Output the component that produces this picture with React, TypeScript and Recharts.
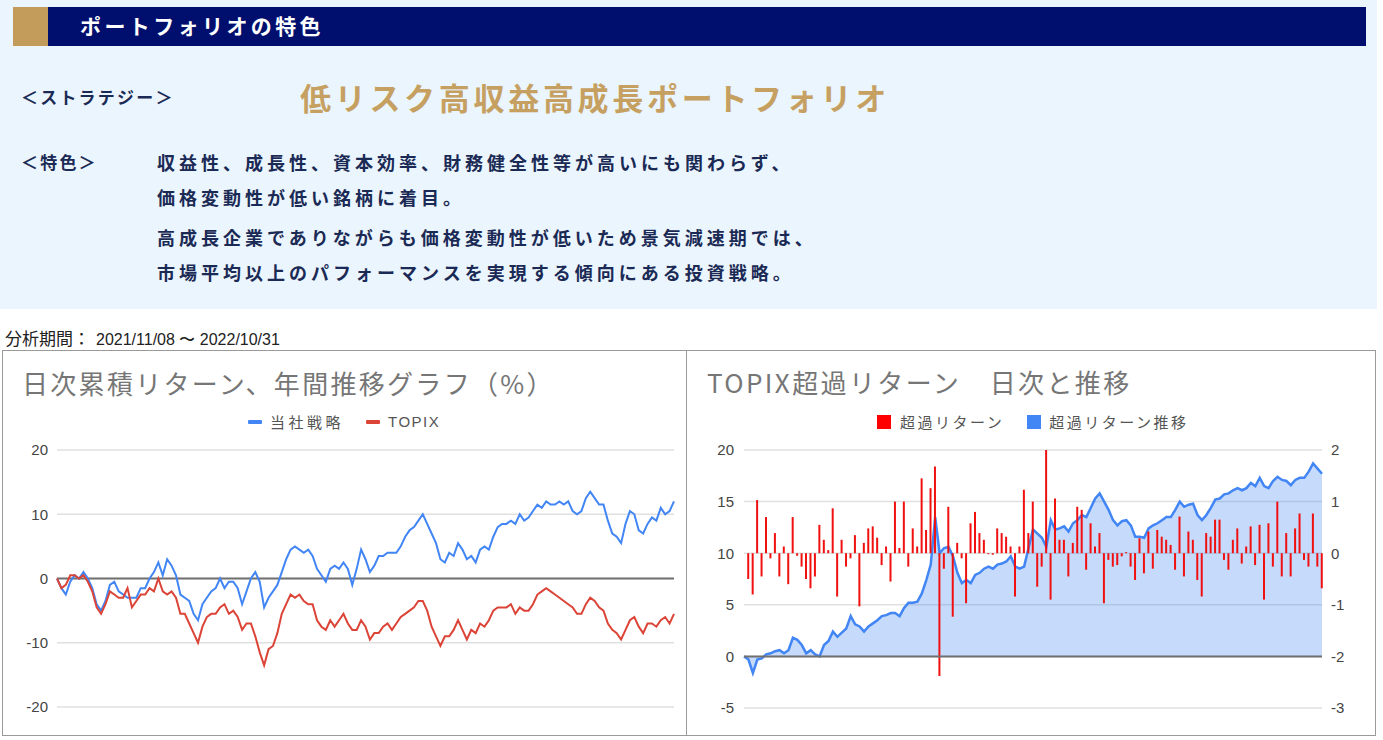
import {
  Area,
  Bar,
  CartesianGrid,
  ComposedChart,
  Line,
  LineChart,
  ReferenceLine,
  XAxis,
  YAxis
} from "recharts";

const JP = '"Noto Sans CJK JP", "Noto Sans", sans-serif';
const NUM = '"Liberation Sans", Arial, sans-serif';

// 日次累積リターン (%) – 当社戦略 / TOPIX
const strategyReturn = [
  0, -1.5, -2.5, -0.5, 0.5, 0, 1, 0, -1.5, -4,
  -5, -3.5, -1, -0.5, -2, -2.5, -3, -3, -3, -1.5,
  -1.5, 0, 1, 2.5, 0.5, 3, 2, 0.5, -2.5, -3,
  -3.5, -5.5, -6.5, -4, -3, -2, -1.5, 0, -1.5, -0.5,
  -0.5, -1.5, -4, -2, 0, 1, -0.5, -4.5, -3, -2,
  -1, 1, 3, 4.5, 5, 4.5, 4, 4.5, 3.5, 1.5,
  0.5, -0.5, 1.5, 2, 1.5, 2.5, 1.5, -1, 1.5, 4.5,
  3, 1, 2, 3.5, 3.5, 4, 4, 4, 5, 6.5,
  7.5, 8, 9, 10, 8.5, 7, 5.5, 3, 2.5, 4,
  3.5, 5.5, 4.5, 3, 3.5, 2.5, 4.5, 5, 4.5, 6.5,
  8, 8.5, 8.5, 9, 8.5, 10, 9, 9.5, 10.5, 11.5,
  11, 12, 11.5, 11.5, 12, 11.5, 12, 10.5, 10, 10.5,
  12.5, 13.5, 12.5, 11.5, 11.5, 9, 7, 6.5, 5.5, 8.5,
  10.5, 10, 7.5, 7, 8.5, 9.5, 9, 11, 10, 10.5,
  12
];

const topixReturn = [
  0, -1.5, -1, 0.5, 0.5, 0, 0.5, -0.5, -2, -4.5,
  -5.5, -4, -2, -2.5, -3, -3, -1.5, -4.5, -3.5, -2.5,
  -2.5, -1.5, -2, 0, -2, -2.5, -2, -3, -5.5, -5.5,
  -7, -8.5, -10, -7.5, -6, -5.5, -5.5, -4.5, -4, -5.5,
  -5, -6, -8, -7, -7, -9, -11.5, -13.5, -11, -10.5,
  -8.5, -5.5, -4, -2.5, -3, -2.5, -3.5, -4, -4, -6.5,
  -7.5, -8, -6.5, -7.5, -6.5, -5.5, -7, -8, -8, -6.5,
  -7.5, -9.5, -8.5, -8.5, -7.5, -7, -8, -7, -6, -5.5,
  -5, -4.5, -3.5, -3.5, -5, -7.5, -9, -10.5, -9, -9,
  -8, -6.5, -8, -9.5, -8, -8.5, -7, -7.5, -6.5, -5,
  -4.5, -4.5, -4.5, -4, -5.5, -4.5, -5, -5, -4, -2.5,
  -2, -1.5, -2, -2.5, -3, -3.5, -4, -4.5, -5.5, -5.5,
  -4, -3, -3.5, -4.5, -5, -7, -8, -8.5, -9.5, -8,
  -6.5, -6, -7.5, -8.5, -7, -7, -7.5, -6.5, -6, -7,
  -5.5
];

// TOPIX超過リターン: 日次 (右軸) と 推移 (左軸)
const excessDaily = [
  0, -0.5, -0.8, 1.03, -0.45, 0.7, -0.1, 0.39, -0.45, 0.13,
  -0.6, 0.7, -0.05, -0.26, -0.5, -0.68, -0.45, 0.55, 0.26, 0.06,
  0.87, -0.84, 0.26, -0.26, -0.1, 0.35, -1.03, 0.2, 0.48, 0.52,
  0.3, -0.23, 0.13, -0.55, 1.0, 0.1, 1.0, -0.26, 0.48, 0.13,
  1.45, 0.45, 1.26, 1.68, -2.38,
  -0.3, 0.9, -1.23, 0.2, -0.1, -0.97, 0.58, 0.8, 0.39, 0.26,
  -0.02, -0.03, 0.48, 0.39, 0.32, 0.13, -0.84, 0.13, 1.23, 0.39,
  1.0, -0.65, -0.26, 2.0, -0.9, 1.06, 0.26, 0.26, -0.45, 0.2,
  0.9, 0.84, -0.32, 0.58, 0.13, 0.39, -0.97, -0.13, -0.26, -0.23,
  -0.06, 0.02, -0.26, -0.52,
  0.29, -0.39, 0.42, -0.3, 0.45, 0.32, 0.26, 0.16, -0.32, 0.71,
  -0.45, 0.42, 0.26, -0.52, -0.84, 0.39, 0.32, 0.65, 0.65, -0.13,
  -0.32, 0.26, 0.48, -0.2, 0.13, 0.52, -0.23, 0.55, -0.9, 0.58,
  -0.26, 1.0, -0.45, 0.39, -0.45, 0.48, 0.77, -0.13, -0.26, 0.77,
  -0.26, -0.68
];

const excessCumulative = [
  0, -0.3, -1.6, -0.3, -0.2, 0.2, 0.3, 0.5, 0.6, 0.3,
  0.6, 1.8, 1.6, 1.1, 0.3, 0.6, 0.2, 0, 1.1, 1.5,
  2.4, 1.9, 2.3, 2.7, 3.9, 3.1, 2.9, 2.4, 2.9, 3.2,
  3.5, 3.9, 4.0, 4.2, 4.2, 3.9, 4.7, 5.2, 5.2, 5.3,
  6.1, 7.4, 8.9, 13.5, 10,
  10.5, 10.6, 9.7, 8.1, 7.1, 7.4, 7.1, 7.9, 8.1, 8.5,
  8.7, 8.5, 8.9, 9.0, 9.2, 9.7, 8.7, 8.5, 8.7, 10.5,
  12.3, 11.9, 11.5, 10.6, 13.2, 12.3, 12.4, 12.6, 12.1, 12.9,
  13.2, 13.7, 13.5, 14.4, 15.3, 15.8, 15.0, 14.2, 13.2, 12.7,
  13.1, 13.2, 12.7, 11.6,
  11.6, 11.5, 12.4, 12.7, 12.9, 13.2, 13.5, 13.5, 14.2, 15.0,
  14.5, 14.7, 14.8, 13.7, 13.2, 13.7, 14.4, 15.2, 15.3, 15.7,
  15.8, 16.1, 16.3, 16.1, 16.3, 16.8, 16.5, 17.3, 16.5, 16.3,
  17.0, 17.4, 17.1, 17.0, 16.6, 17.1, 17.3, 17.3, 17.9, 18.7,
  18.2, 17.7
];

const returnTicks = [-20, -10, 0, 10, 20];
const cumulativeTicks = [-5, 0, 5, 10, 15, 20];
const dailyTicks = [-3, -2, -1, 0, 1, 2];

const featureLines = [
  "収益性、成長性、資本効率、財務健全性等が高いにも関わらず、",
  "価格変動性が低い銘柄に着目。",
  "高成長企業でありながらも価格変動性が低いため景気減速期では、",
  "市場平均以上のパフォーマンスを実現する傾向にある投資戦略。"
];
const featureTops = [152, 187, 227, 262];

const returnData = strategyReturn.map((v, i) => ({ day: i, strategy: v, topix: topixReturn[i] }));
const excessData = excessDaily.map((v, i) => ({ day: i, daily: v, cumulative: excessCumulative[i] }));

const tickStyle = { fill: "#444", fontSize: 15, fontFamily: NUM };

function Text({ left, top, size, color, bold, spacing, children }: any) {
  return (
    <div
      style={{
        position: "absolute",
        left,
        top,
        fontSize: size,
        lineHeight: `${size + 2}px`,
        color,
        fontWeight: bold ? 700 : 400,
        letterSpacing: spacing || 0,
        whiteSpace: "nowrap",
        fontFamily: JP
      }}
    >
      {children}
    </div>
  );
}

export default function App() {
  return (
    <div style={{ position: "absolute", left: 0, top: 0, width: 1383, height: 740, background: "#fff", overflow: "hidden", fontFamily: JP }}>
      {/* 上部パネル */}
      <div style={{ position: "absolute", left: 0, top: 0, width: 1377, height: 309, background: "#eaf5fd" }} />
      <div style={{ position: "absolute", left: 13, top: 7, width: 35, height: 39, background: "#c39b5b" }} />
      <div style={{ position: "absolute", left: 48, top: 7, width: 1318, height: 39, background: "#000f6e" }} />
      <Text left={80} top={14} size={21} color="#fff" bold spacing={3.4}>ポートフォリオの特色</Text>
      <Text left={21} top={87} size={17} color="#1b2a55" bold spacing={2.2}>＜ストラテジー＞</Text>
      <Text left={300} top={80} size={31} color="#c6a061" bold spacing={3.7}>低リスク高収益高成長ポートフォリオ</Text>
      <Text left={21} top={152} size={17} color="#1b2a55" bold spacing={2.2}>＜特色＞</Text>
      {featureLines.map((line, i) => (
        <Text key={i} left={157} top={featureTops[i]} size={18} color="#1b2a55" bold spacing={4}>{line}</Text>
      ))}

      <Text left={5} top={328} size={17} color="#222">
        分析期間：<span style={{ fontFamily: NUM, fontSize: 16, marginLeft: 6 }}>2021/11/08 〜 2022/10/31</span>
      </Text>

      {/* 左グラフ */}
      <div style={{ position: "absolute", left: 2, top: 350, width: 683, height: 384, border: "1.5px solid #9a9a9a" }} />
      <Text left={22} top={369} size={26} color="#767676" spacing={2.3}>日次累積リターン、年間推移グラフ（%）</Text>
      <div style={{ position: "absolute", left: 248, top: 411, display: "flex", alignItems: "center", fontSize: 15, color: "#555", fontFamily: JP }}>
        <span style={{ width: 14, height: 4, background: "#4285f4", borderRadius: 1, marginRight: 8 }} />
        <span style={{ marginRight: 22, letterSpacing: 3.5 }}>当社戦略</span>
        <span style={{ width: 14, height: 4, background: "#db4437", borderRadius: 1, marginRight: 8 }} />
        <span style={{ fontFamily: NUM, letterSpacing: 1.5 }}>TOPIX</span>
      </div>
      <div style={{ position: "absolute", left: 2, top: 351 }}>
        <LineChart width={684} height={383} data={returnData} margin={{ top: 99, right: 12, bottom: 27, left: 0 }}>
          <CartesianGrid vertical={false} stroke="#e0e0e0" strokeWidth={1.5} />
          <XAxis dataKey="day" hide />
          <YAxis
            domain={[-20, 20]}
            ticks={returnTicks}
            width={55}
            axisLine={false}
            tickLine={false}
            tickSize={0}
            tickMargin={9}
            tick={tickStyle}
          />
          <ReferenceLine y={0} stroke="#707070" strokeWidth={2} />
          <Line dataKey="strategy" stroke="#4285f4" strokeWidth={2} dot={false} isAnimationActive={false} />
          <Line dataKey="topix" stroke="#db4437" strokeWidth={2} dot={false} isAnimationActive={false} />
        </LineChart>
      </div>

      {/* 右グラフ */}
      <div style={{ position: "absolute", left: 686, top: 350, width: 688, height: 384, border: "1.5px solid #9a9a9a" }} />
      <Text left={707} top={368} size={26} color="#767676" spacing={2.4}>TOPIX超過リターン　日次と推移</Text>
      <div style={{ position: "absolute", left: 877, top: 411, display: "flex", alignItems: "center", fontSize: 15, color: "#555", fontFamily: JP }}>
        <span style={{ width: 14, height: 14, background: "#f00", marginRight: 9 }} />
        <span style={{ marginRight: 23, letterSpacing: 2.5 }}>超過リターン</span>
        <span style={{ width: 14, height: 14, background: "#4285f4", marginRight: 8 }} />
        <span style={{ letterSpacing: 2.5 }}>超過リターン推移</span>
      </div>
      <div style={{ position: "absolute", left: 687, top: 351 }}>
        <ComposedChart width={688} height={383} data={excessData} margin={{ top: 99, right: 0, bottom: 26, left: 0 }}>
          <CartesianGrid vertical={false} yAxisId="left" stroke="#e0e0e0" strokeWidth={1.5} />
          <XAxis dataKey="day" type="number" domain={[0, excessDaily.length - 1]} hide />
          <YAxis
            yAxisId="left"
            domain={[-5, 20]}
            ticks={cumulativeTicks}
            width={57}
            axisLine={false}
            tickLine={false}
            tickSize={0}
            tickMargin={10}
            tick={tickStyle}
          />
          <YAxis
            yAxisId="right"
            orientation="right"
            domain={[-3, 2]}
            ticks={dailyTicks}
            width={53}
            axisLine={false}
            tickLine={false}
            tickSize={0}
            tickMargin={9}
            tick={tickStyle}
          />
          <Bar yAxisId="right" dataKey="daily" fill="#f01010" barSize={2} isAnimationActive={false} />
          <Area
            yAxisId="left"
            type="linear"
            dataKey="cumulative"
            stroke="#4285f4"
            strokeWidth={2.5}
            fill="#4285f4"
            fillOpacity={0.3}
            isAnimationActive={false}
          />
          <ReferenceLine yAxisId="left" y={0} stroke="#707070" strokeWidth={2} />
        </ComposedChart>
      </div>
    </div>
  );
}
